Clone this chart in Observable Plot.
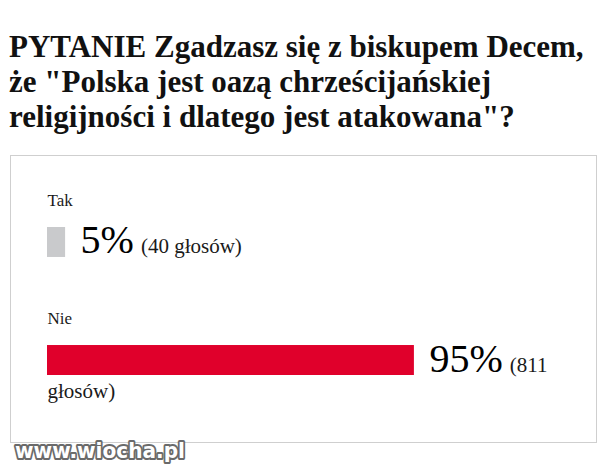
<!DOCTYPE html>
<html>
<head>
<meta charset="utf-8">
<script src="https://cdn.jsdelivr.net/npm/d3@7"></script>
<script src="https://cdn.jsdelivr.net/npm/@observablehq/plot@0.6"></script>
<style>
  html, body { margin: 0; padding: 0; background: #fff; }
  body { width: 610px; height: 475px; position: relative; overflow: hidden; }
  #title {
    position: absolute; left: 9px; top: 29px; margin: 0;
    font-family: "Liberation Serif", serif; font-weight: bold;
    font-size: 31px; line-height: 35px; color: #111; white-space: nowrap;
  }
  #title span { display: block; }
  #box {
    position: absolute; left: 10px; top: 155px; width: 585px; height: 286px;
    border: 1px solid #cfcfcf; background: #fff;
  }
  #box svg { display: block; }
  #wm { position: absolute; left: 12px; top: 432px; }
</style>
</head>
<body>
<h1 id="title"><span>PYTANIE Zgadzasz się z biskupem Decem,</span><span>że "Polska jest oazą chrześcijańskiej</span><span>religijności i dlatego jest atakowana"?</span></h1>
<div id="box"></div>
<svg id="wm" width="190" height="40">
  <text x="3" y="26" textLength="170" lengthAdjust="spacingAndGlyphs"
        font-family="DejaVu Sans" font-weight="bold" font-size="22"
        fill="#fff" stroke="#6a6a6a" stroke-width="4" stroke-linejoin="round"
        paint-order="stroke">www.wiocha.pl</text>
</svg>
<script>
const answers = ["Tak", "Nie"];
const shares = [4.7, 95.3];            // bar lengths (%)
const pctLabels = ["5%", "95%"];
const votes = [40, 811];
const barColors = ["#c9cacc", "#e0002b"];

const W = 585, H = 286;
const serif = '"Liberation Serif", serif';

const rows = answers.map((a, i) => ({
  answer: a, share: shares[i], pct: pctLabels[i], count: `(${votes[i]} głosów)`
}));

const xOpts = {domain: [0, 100], range: [36, 421]};
const xs = Plot.scale({x: xOpts});

const ctx = document.createElement("canvas").getContext("2d");
function tw(str, size) { ctx.font = `${size}px ${serif}`; return ctx.measureText(str).width; }

const maxRight = 549, pctGap = 15, cntGap = 7;
const marks = [
  Plot.barX(rows, {x: "share", y: "answer", fill: "answer"}),
  Plot.text(rows, {x: () => 0, y: "answer", text: "answer", textAnchor: "start",
    lineAnchor: "bottom", dy: -36.5, fontSize: 17, fill: "#1a1a1a"})
];

rows.forEach(r => {
  const start = xs.apply(r.share) + pctGap;
  const pctW = tw(r.pct, 40);
  const cx = start + pctW + cntGap;
  const words = r.count.split(" ");
  let line1 = words[0], k = 1;
  while (k < words.length && cx + tw(line1 + " " + words[k], 21) <= maxRight) {
    line1 += " " + words[k]; k++;
  }
  const line2 = words.slice(k).join(" ");
  marks.push(Plot.text([r], {x: "share", y: "answer", text: "pct", dx: pctGap, dy: 11,
    textAnchor: "start", lineAnchor: "bottom", fontSize: 40, fill: "#000"}));
  marks.push(Plot.text([r], {x: "share", y: "answer", text: () => line1,
    dx: pctGap + pctW + cntGap, dy: 11, textAnchor: "start", lineAnchor: "bottom",
    fontSize: 21, fill: "#1a1a1a"}));
  if (line2) {
    marks.push(Plot.text([r], {x: () => 0, y: "answer", text: () => line2, dy: 37,
      textAnchor: "start", lineAnchor: "bottom", fontSize: 21, fill: "#1a1a1a"}));
  }
});

const chart = Plot.plot({
  width: W, height: H,
  marginTop: 0, marginRight: 0, marginBottom: 0, marginLeft: 0,
  style: {fontFamily: serif, background: "#fff", overflow: "visible"},
  x: {...xOpts, axis: null},
  y: {type: "band", domain: answers, range: [71, 219], paddingInner: 0.746,
      paddingOuter: 0, round: false, axis: null},
  color: {domain: answers, range: barColors},
  marks
});
document.getElementById("box").appendChild(chart);
</script>
</body>
</html>
